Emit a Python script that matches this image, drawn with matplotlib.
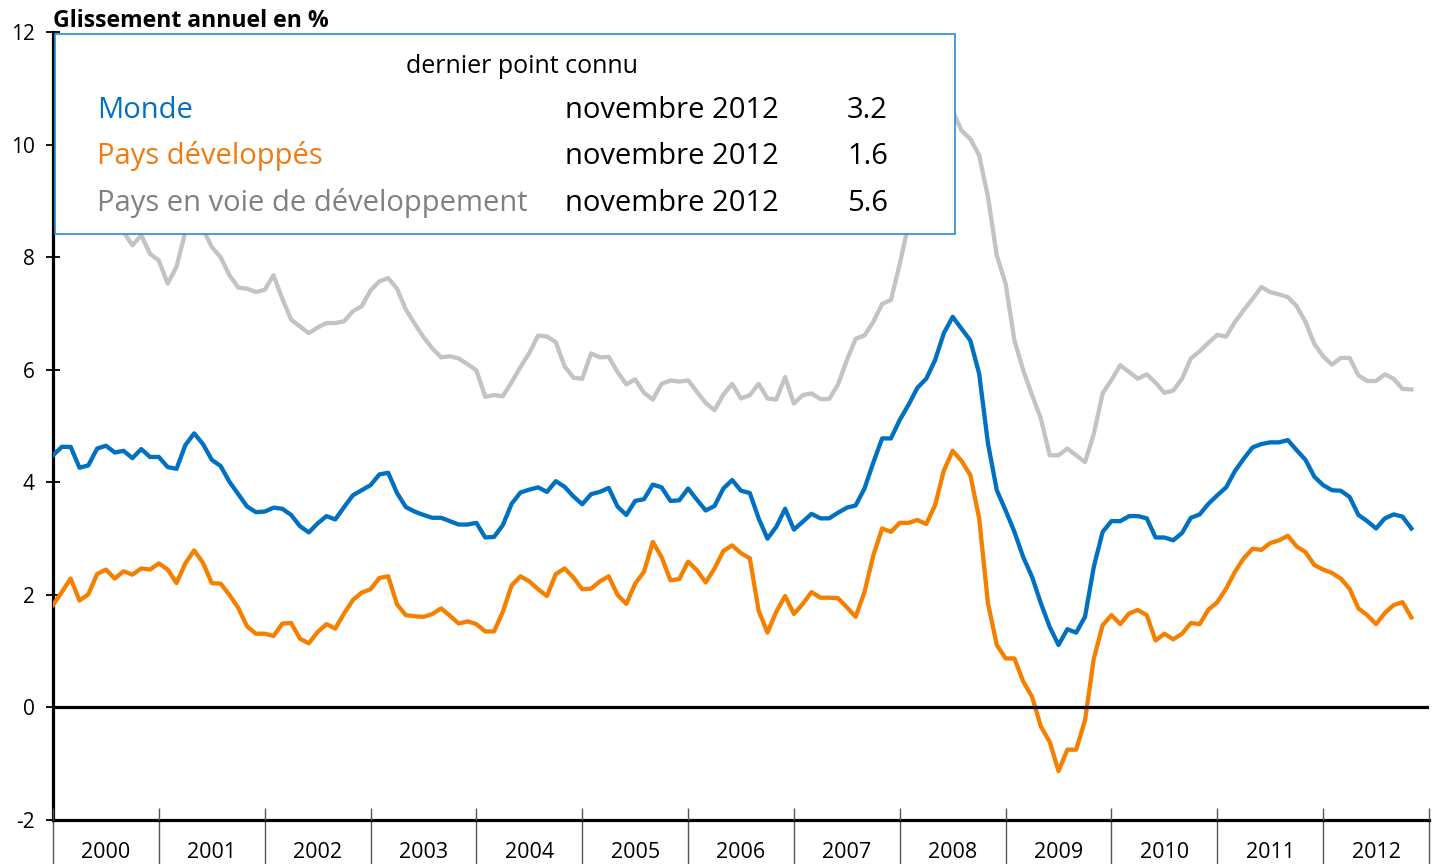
import matplotlib.pyplot as plt
import numpy as np
from matplotlib.patches import Rectangle

plt.rcParams['font.family'] = ['Open Sans', 'DejaVu Sans']
plt.rcParams['axes.unicode_minus'] = False

# glissement annuel en %, mensuel, janvier 2000 -> novembre 2012
monde = [
    4.48, 4.63, 4.63, 4.26, 4.30, 4.60, 4.65, 4.53, 4.56, 4.43, 4.59, 4.45,
    4.45, 4.27, 4.24, 4.66, 4.87, 4.68, 4.40, 4.29, 4.01, 3.79, 3.57, 3.47,
    3.48, 3.55, 3.53, 3.42, 3.22, 3.11, 3.27, 3.40, 3.34, 3.56, 3.77, 3.86,
    3.95, 4.14, 4.17, 3.81, 3.56, 3.48, 3.42, 3.37, 3.37, 3.31, 3.25, 3.25,
    3.28, 3.02, 3.03, 3.24, 3.62, 3.82, 3.87, 3.91, 3.83, 4.02, 3.92, 3.75,
    3.61, 3.79, 3.83, 3.90, 3.57, 3.42, 3.67, 3.70, 3.96, 3.91, 3.67, 3.68,
    3.89, 3.69, 3.50, 3.58, 3.89, 4.04, 3.85, 3.81, 3.36, 3.00, 3.21, 3.53,
    3.16, 3.30, 3.44, 3.36, 3.36, 3.46, 3.55, 3.59, 3.89, 4.35, 4.78, 4.78,
    5.11, 5.38, 5.68, 5.84, 6.17, 6.65, 6.94, 6.73, 6.52, 5.93, 4.69, 3.86,
    3.50, 3.12, 2.67, 2.32, 1.85, 1.43, 1.11, 1.39, 1.33, 1.61, 2.50, 3.12,
    3.31, 3.31, 3.40, 3.40, 3.36, 3.02, 3.02, 2.97, 3.10, 3.37, 3.43, 3.62,
    3.77, 3.91, 4.20, 4.42, 4.62, 4.68, 4.71, 4.71, 4.75, 4.57, 4.40, 4.10,
    3.95, 3.86, 3.85, 3.74, 3.42, 3.31, 3.18, 3.36, 3.43, 3.39, 3.18,
]
developpes = [
    1.82, 2.05, 2.29, 1.90, 2.01, 2.37, 2.45, 2.29, 2.42, 2.36, 2.47, 2.45,
    2.56, 2.45, 2.21, 2.56, 2.79, 2.57, 2.21, 2.20, 2.00, 1.77, 1.44, 1.31,
    1.31, 1.27, 1.49, 1.50, 1.22, 1.14, 1.34, 1.48, 1.40, 1.67, 1.91, 2.04,
    2.10, 2.30, 2.33, 1.83, 1.64, 1.62, 1.61, 1.66, 1.76, 1.63, 1.49, 1.53,
    1.48, 1.35, 1.35, 1.70, 2.17, 2.33, 2.24, 2.10, 1.98, 2.37, 2.47, 2.31,
    2.10, 2.11, 2.24, 2.33, 2.00, 1.84, 2.20, 2.41, 2.94, 2.67, 2.26, 2.28,
    2.59, 2.44, 2.22, 2.47, 2.78, 2.88, 2.74, 2.65, 1.72, 1.33, 1.70, 1.98,
    1.66, 1.84, 2.05, 1.95, 1.95, 1.94, 1.78, 1.61, 2.05, 2.70, 3.18, 3.12,
    3.28, 3.28, 3.33, 3.26, 3.59, 4.21, 4.56, 4.38, 4.13, 3.36, 1.85, 1.11,
    0.87, 0.87, 0.46, 0.19, -0.34, -0.61, -1.13, -0.75, -0.75, -0.23, 0.87, 1.46,
    1.64, 1.48, 1.67, 1.73, 1.64, 1.19, 1.31, 1.21, 1.31, 1.50, 1.48, 1.74,
    1.87, 2.11, 2.41, 2.65, 2.82, 2.80, 2.92, 2.97, 3.05, 2.86, 2.76, 2.53,
    2.45, 2.39, 2.29, 2.11, 1.76, 1.64, 1.48, 1.68, 1.82, 1.87, 1.60,
]
en_developpement = [
    9.33, 9.15, 9.00, 8.85, 8.95, 8.90, 8.75, 8.60, 8.45, 8.21, 8.39, 8.06,
    7.94, 7.53, 7.83, 8.45, 8.80, 8.50, 8.18, 8.00, 7.68, 7.46, 7.44, 7.38,
    7.42, 7.68, 7.26, 6.89, 6.77, 6.65, 6.75, 6.83, 6.83, 6.86, 7.04, 7.13,
    7.41, 7.57, 7.63, 7.44, 7.07, 6.82, 6.58, 6.38, 6.22, 6.24, 6.20, 6.10,
    5.99, 5.52, 5.55, 5.53, 5.78, 6.05, 6.30, 6.61, 6.59, 6.49, 6.06, 5.86,
    5.84, 6.29, 6.22, 6.23, 5.96, 5.74, 5.83, 5.59, 5.47, 5.75, 5.81, 5.79,
    5.81, 5.61, 5.41, 5.28, 5.56, 5.75, 5.49, 5.55, 5.75, 5.49, 5.47, 5.87,
    5.40, 5.55, 5.58, 5.48, 5.48, 5.74, 6.17, 6.55, 6.61, 6.85, 7.17, 7.24,
    7.88, 8.60, 9.30, 9.90, 10.40, 10.70, 10.60, 10.25, 10.10, 9.81, 9.07, 8.03,
    7.53, 6.52, 5.99, 5.55, 5.13, 4.48, 4.48, 4.60, 4.48, 4.36, 4.86, 5.58,
    5.82, 6.08, 5.96, 5.84, 5.92, 5.77, 5.59, 5.63, 5.84, 6.20, 6.33, 6.48,
    6.62, 6.59, 6.85, 7.06, 7.26, 7.47, 7.38, 7.34, 7.29, 7.13, 6.85, 6.46,
    6.24, 6.09, 6.21, 6.21, 5.90, 5.80, 5.80, 5.92, 5.84, 5.66, 5.65,
]
years = list(range(2000, 2013))

noms = ['Monde', 'Pays développés', 'Pays en voie de développement']
dernier_mois = ['novembre 2012'] * 3
dernier_val = ['3.2', '1.6', '5.6']

c_monde = '#0070C0'
c_dev = '#F58000'
c_pvd = '#C3C3C3'

fig = plt.figure(figsize=(14.33, 8.64), dpi=100)
ax = fig.add_axes([0.037, 0.0509, 0.9602, 0.912])

x = np.arange(len(monde))
ax.plot(x, en_developpement, color=c_pvd, lw=3.1, zorder=2)
ax.plot(x, developpes, color=c_dev, lw=3.1, zorder=3)
ax.plot(x, monde, color=c_monde, lw=3.1, zorder=4)
ax.axhline(0, color='black', lw=2.3, zorder=5)

ax.set_xlim(0, 12 * len(years))
ax.set_ylim(-2, 12)

for s in ['top', 'right']:
    ax.spines[s].set_visible(False)
ax.spines['left'].set_linewidth(2.3)
ax.spines['bottom'].set_linewidth(2.3)

ax.set_yticks(np.arange(-2, 13, 2))
ax.tick_params(axis='y', direction='inout', length=10, width=1.3, labelsize=15, pad=8)

# separateurs d'annees + libelles centres
bounds = np.arange(0, 12 * len(years) + 1, 12)
ax.set_xticks(bounds)
ax.set_xticklabels([])
ax.set_xticks(bounds[:-1] + 6, minor=True)
ax.set_xticklabels([str(y) for y in years], minor=True)
ax.tick_params(axis='x', which='major', direction='out', length=40, width=1, color='#555555')
ax.tick_params(axis='x', which='minor', length=0, labelsize=15.5, pad=16)
ax.vlines(bounds, 0, 12 / 788, transform=ax.get_xaxis_transform(),
          color='#555555', lw=1, zorder=6, clip_on=False)

ax.text(0.0, 1.006, 'Glissement annuel en %', transform=ax.transAxes,
        fontsize=16.6, fontweight='bold', ha='left', va='baseline')

# encadre "dernier point connu"
box = Rectangle((0.0015, 0.7437), 0.654, 0.2538, transform=ax.transAxes,
                facecolor='white', edgecolor='#2B8AD6', lw=1.2, zorder=10)
ax.add_patch(box)
ax.text(0.3408, 0.9484, 'dernier point connu', transform=ax.transAxes,
        fontsize=18, ha='center', va='baseline', zorder=11)
rows_y = [0.8909, 0.8325, 0.7728]
cols = [c_monde, '#F07A10', '#808080']
for nom, mois, val, yy, c in zip(noms, dernier_mois, dernier_val, rows_y, cols):
    ax.text(0.032, yy, nom, transform=ax.transAxes, fontsize=21, color=c,
            ha='left', va='baseline', zorder=11)
    ax.text(0.372, yy, mois, transform=ax.transAxes, fontsize=21,
            ha='left', va='baseline', zorder=11)
    ax.text(0.6068, yy, val, transform=ax.transAxes, fontsize=21,
            ha='right', va='baseline', zorder=11)

fig.savefig('out.png', dpi=100)
